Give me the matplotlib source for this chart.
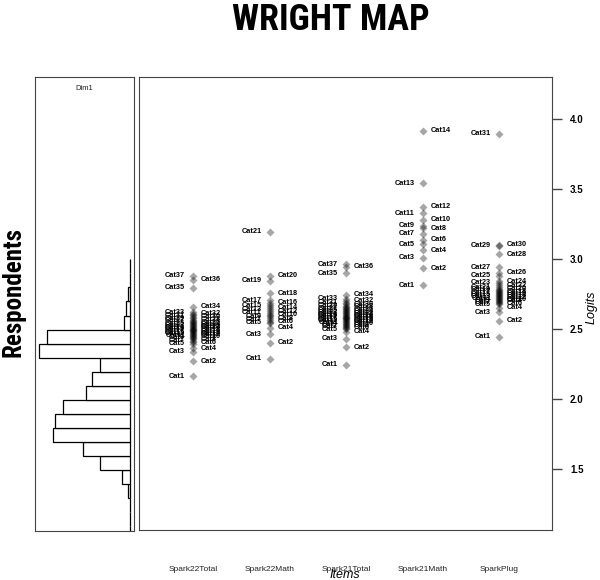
import numpy as np
import matplotlib
matplotlib.use('Agg')
import matplotlib.pyplot as plt
from matplotlib import font_manager as fm

#  Item names along the bottom of the map.
items = ['Spark22Total', 'Spark22Math', 'Spark21Total', 'Spark21Math', 'SparkPlug']

#  Threshold locations (logits), Cat1 .. CatN for each item.
spark22_total = [2.164, 2.271, 2.336, 2.364, 2.393, 2.405, 2.417, 2.428, 2.437, 2.445,
                 2.452, 2.458, 2.465, 2.471, 2.477, 2.484, 2.490, 2.495, 2.501, 2.507,
                 2.514, 2.520, 2.526, 2.533, 2.541, 2.549, 2.557, 2.566, 2.575, 2.586,
                 2.597, 2.609, 2.621, 2.657, 2.793, 2.852, 2.879]
spark22_math = [2.286, 2.400, 2.464, 2.507, 2.543, 2.552, 2.566, 2.578, 2.591, 2.603,
                2.615, 2.628, 2.641, 2.655, 2.668, 2.688, 2.707, 2.757, 2.843, 2.879,
                3.193]
spark21_total = [2.243, 2.369, 2.429, 2.480, 2.498, 2.507, 2.516, 2.524, 2.531, 2.538,
                 2.545, 2.551, 2.557, 2.563, 2.569, 2.575, 2.581, 2.587, 2.593, 2.599,
                 2.605, 2.611, 2.618, 2.625, 2.632, 2.640, 2.648, 2.657, 2.666, 2.676,
                 2.688, 2.700, 2.717, 2.743, 2.898, 2.945, 2.964]
spark21_math = [2.814, 2.933, 3.009, 3.064, 3.105, 3.136, 3.179, 3.219, 3.236, 3.279,
                3.326, 3.374, 3.540, 3.917]
spark_plug = [2.443, 2.557, 2.621, 2.650, 2.676, 2.684, 2.692, 2.700, 2.707, 2.714,
              2.721, 2.728, 2.735, 2.742, 2.749, 2.756, 2.763, 2.771, 2.779, 2.788,
              2.799, 2.812, 2.830, 2.840, 2.879, 2.900, 2.940, 3.033, 3.095, 3.100,
              3.893]
thresholds = [spark22_total, spark22_math, spark21_total, spark21_math, spark_plug]

#  Respondent distribution, 0.1 logit bins starting at 1.0.
bin_start = [1.0, 1.1, 1.2, 1.3, 1.4, 1.5, 1.6, 1.7, 1.8, 1.9,
             2.0, 2.1, 2.2, 2.3, 2.4, 2.5, 2.6, 2.7, 2.8, 2.9]
counts = [0, 0, 0, 1, 4, 15, 24, 39, 38, 34,
          22, 19, 15, 46, 42, 3, 2, 1, 0, 0]

yticks = [1.5, 2.0, 2.5, 3.0, 3.5, 4.0]

#  Pick a narrow bold face for the big labels if one is around.
names = set(f.name for f in fm.fontManager.ttflist)
narrow = 'DejaVu Sans'
for n in ['Liberation Sans Narrow', 'Roboto Condensed', 'DejaVu Sans Condensed']:
    if n in names:
        narrow = n
        break
plt.rcParams['font.family'] = ['Liberation Sans', 'DejaVu Sans']

W, H = 600.0, 580.0
fig = plt.figure(figsize=(6, 5.8), dpi=100)
ylo, yhi = 1.064, 4.30

#  Person histogram on the left.
axh = fig.add_axes([35/W, 1 - 531/H, 99/W, 454/H])
axh.barh(bin_start, counts, height=0.1, align='edge', color='white',
         edgecolor='black', linewidth=0.9)
axh.set_xlim(max(counts)*1.04, -max(counts)*0.04)
axh.set_ylim(ylo, yhi)
axh.set_xticks([])
axh.set_yticks([])
for s in axh.spines.values():
    s.set_color('#444444')
axh.text(0.5, 0.975, 'Dim1', transform=axh.transAxes, ha='center', va='center',
         fontsize=5.5, color='#222222')

#  Item thresholds.
ax = fig.add_axes([139/W, 1 - 530/H, 413/W, 453/H])
for i, vals in enumerate(thresholds):
    x = i + 1
    ax.plot([x]*len(vals), vals, 'D', color='black', alpha=0.35, ms=3.6, mec='none')
    for k, v in enumerate(vals):
        cat = k + 1
        if cat % 2 == 1:
            ax.annotate('Cat%d' % cat, (x, v), xytext=(-8, 0), textcoords='offset pixels',
                        ha='right', va='center', fontsize=5.3, fontweight='bold')
        else:
            ax.annotate('Cat%d' % cat, (x, v), xytext=(8, 0), textcoords='offset pixels',
                        ha='left', va='center', fontsize=5.3, fontweight='bold')

ax.set_xlim(0.294, 5.69)
ax.set_ylim(ylo, yhi)
ax.set_xticks(range(1, len(items)+1))
ax.set_xticklabels(items, fontsize=6, color='#222222')
ax.tick_params(axis='x', length=0, pad=26)
ax.yaxis.tick_right()
ax.set_yticks(yticks)
ax.set_yticklabels(['%.1f' % t for t in yticks], fontsize=7, fontweight='bold')
ax.tick_params(axis='y', length=7, width=1, color='#444444', pad=6)
for s in ax.spines.values():
    s.set_color('#444444')

fig.text(592/W, 1 - 307/H, 'Logits', rotation=90, ha='center', va='center',
         fontsize=9, style='italic')
fig.text(345/W, 1 - 575/H, 'Items', ha='center', va='center', fontsize=9, style='italic')

fig.text(331/W, 1 - 20/H, 'WRIGHT MAP', ha='center', va='center', fontsize=26,
         fontweight='bold', family=narrow)
fig.text(14/W, 1 - 292/H, 'Respondents', rotation=90, ha='center', va='center',
         fontsize=18, fontweight='bold', family=narrow)

fig.savefig('out.png', dpi=100)
